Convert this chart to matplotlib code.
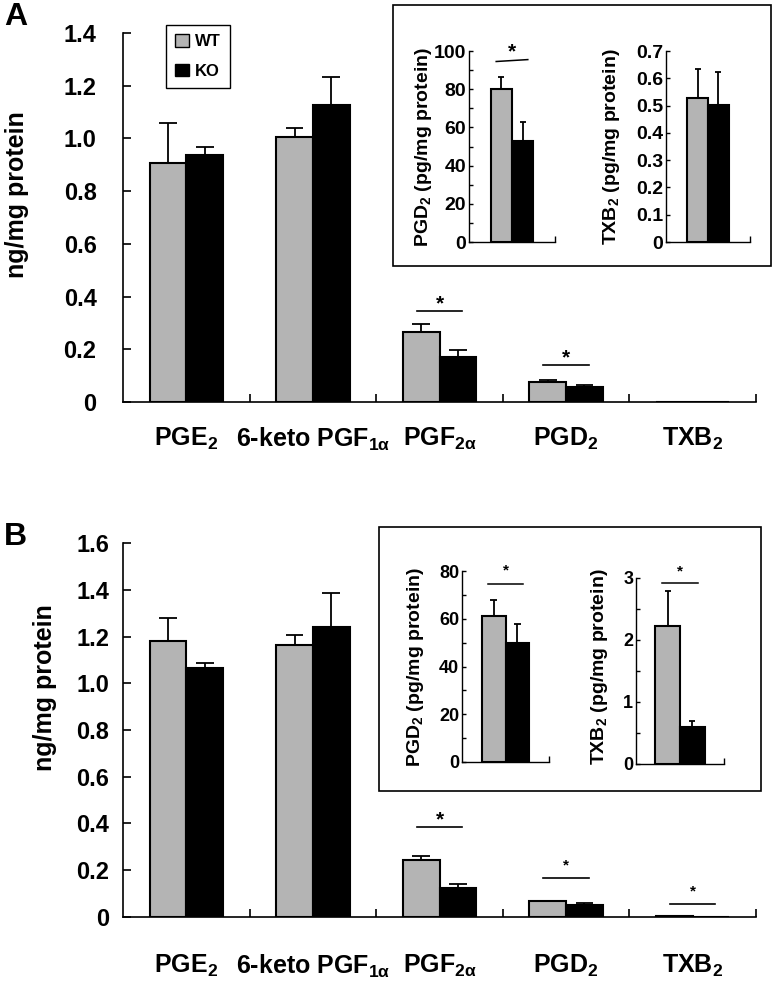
import matplotlib
matplotlib.use('Agg')
import matplotlib.pyplot as plt
from matplotlib.patches import Rectangle, Patch
import numpy as np

plt.rcParams.update({
    'font.family': ['Liberation Sans', 'DejaVu Sans'],
    'font.weight': 'bold',
    'mathtext.fontset': 'custom',
    'mathtext.rm': 'Liberation Sans:bold',
    'mathtext.it': 'Liberation Sans:bold',
    'mathtext.bf': 'Liberation Sans:bold',
    'mathtext.sf': 'Liberation Sans:bold',
})

# ---------------- data ----------------
categories = ['PGE$_2$', '6-keto PGF$_{1\\alpha}$', 'PGF$_{2\\alpha}$', 'PGD$_2$', 'TXB$_2$']
series_names = ['WT', 'KO']

# Panel A (ng/mg protein)
a_wt = [0.905, 1.005, 0.266, 0.074, 0.0]
a_wt_err = [0.155, 0.035, 0.030, 0.011, 0.0]
a_ko = [0.937, 1.128, 0.171, 0.056, 0.0]
a_ko_err = [0.030, 0.105, 0.025, 0.009, 0.0]
a_yticks = [0, 0.2, 0.4, 0.6, 0.8, 1.0, 1.2, 1.4]
a_yticklabels = ['0', '0.2', '0.4', '0.6', '0.8', '1.0', '1.2', '1.4']
a_sig_cats = [2, 3]
a_sig_y = [0.345, 0.140]

# Panel B (ng/mg protein)
b_wt = [1.181, 1.164, 0.243, 0.066, 0.0022]
b_wt_err = [0.098, 0.045, 0.018, 0.0, 0.0]
b_ko = [1.064, 1.241, 0.124, 0.050, 0.0006]
b_ko_err = [0.022, 0.145, 0.015, 0.007, 0.0]
b_yticks = [0, 0.2, 0.4, 0.6, 0.8, 1.0, 1.2, 1.4, 1.6]
b_yticklabels = ['0', '0.2', '0.4', '0.6', '0.8', '1.0', '1.2', '1.4', '1.6']
b_sig_cats = [2, 3, 4]
b_sig_y = [0.384, 0.164, 0.054]

# Insets (pg/mg protein)
ia_pgd2_wt, ia_pgd2_wt_err, ia_pgd2_ko, ia_pgd2_ko_err = 80.0, 6.2, 53.0, 9.7
ia_pgd2_sig = (94.5, 95.5)
ia_pgd2_ticks = [0, 10, 20, 30, 40, 50, 60, 70, 80, 90, 100]
ia_pgd2_labels = ['0', '', '20', '', '40', '', '60', '', '80', '', '100']

ia_txb2_wt, ia_txb2_wt_err, ia_txb2_ko, ia_txb2_ko_err = 0.527, 0.107, 0.502, 0.122
ia_txb2_sig = None
ia_txb2_ticks = [0, 0.1, 0.2, 0.3, 0.4, 0.5, 0.6, 0.7]
ia_txb2_labels = ['0', '0.1', '0.2', '0.3', '0.4', '0.5', '0.6', '0.7']

ib_pgd2_wt, ib_pgd2_wt_err, ib_pgd2_ko, ib_pgd2_ko_err = 61.2, 6.8, 49.7, 8.2
ib_pgd2_sig = (74.7, 74.7)
ib_pgd2_ticks = [0, 10, 20, 30, 40, 50, 60, 70, 80]
ib_pgd2_labels = ['0', '', '20', '', '40', '', '60', '', '80']

ib_txb2_wt, ib_txb2_wt_err, ib_txb2_ko, ib_txb2_ko_err = 2.23, 0.56, 0.60, 0.09
ib_txb2_sig = (2.92, 2.92)
ib_txb2_ticks = [0, 0.5, 1, 1.5, 2, 2.5, 3]
ib_txb2_labels = ['0', '', '1', '', '2', '', '3']

# ---------------- style ----------------
GRAY = '#b4b4b4'
W, H = 777, 983
fig = plt.figure(figsize=(W / 100, H / 100), dpi=100)


def rect_px(x0, y0, x1, y1):
    return [x0 / W, 1 - y1 / H, (x1 - x0) / W, (y1 - y0) / H]


def errs(ax, xs, vals, es, cap):
    for x, v, e in zip(xs, vals, es):
        if e > 0:
            ax.vlines(x, v, v + e, color='black', lw=1.3, zorder=1)
            ax.hlines(v + e, x - cap, x + cap, color='black', lw=1.3, zorder=1)


def main_panel(rect, wt, wterr, ko, koerr, ymax, yticks, ylabels, tick_pad, xpad,
               sig_cats, sig_y, star_sizes, star_offs):
    ax = fig.add_axes(rect)
    n = len(categories)
    x = np.arange(n)
    bw = 0.29
    ax.bar(x - bw / 2, wt, bw, color=GRAY, edgecolor='black', linewidth=1.5, zorder=2)
    ax.bar(x + bw / 2, ko, bw, color='black', edgecolor='black', linewidth=1.5, zorder=2)
    errs(ax, x - bw / 2, wt, wterr, 0.07)
    errs(ax, x + bw / 2, ko, koerr, 0.07)
    for s in ['top', 'right']:
        ax.spines[s].set_visible(False)
    for s in ['left', 'bottom']:
        ax.spines[s].set_linewidth(1.2)
    ax.set_yticks(yticks)
    ax.set_yticklabels(ylabels)
    ax.tick_params(axis='y', direction='in', length=6, width=1.2, pad=tick_pad, labelsize=17)
    ax.set_xticks(np.arange(1, n + 1) - 0.5)
    ax.set_xticklabels([])
    ax.tick_params(axis='x', which='major', direction='in', length=6, width=1.2)
    ax.set_xticks(x, categories, minor=True)
    ax.tick_params(axis='x', which='minor', length=0, pad=xpad, labelsize=18)
    ax.set_xlim(-0.5, n - 0.5)
    ax.set_ylim(0, ymax)
    for c, yv, ss, so in zip(sig_cats, sig_y, star_sizes, star_offs):
        ax.plot([c - 0.18, c + 0.18], [yv, yv], color='black', lw=1.2, clip_on=False)
        ax.annotate('*', (c, yv), xytext=(0, so), textcoords='offset points',
                    ha='center', va='baseline', fontsize=ss, fontweight='bold',
                    annotation_clip=False)
    return ax


def inset(rect, wt, wterr, ko, koerr, ymax, ticks, labels, bw, lsize, sig, star_size, star_off):
    ax = fig.add_axes(rect)
    ax.bar([-bw / 2], [wt], bw, color=GRAY, edgecolor='black', linewidth=1.5, zorder=2)
    ax.bar([bw / 2], [ko], bw, color='black', edgecolor='black', linewidth=1.5, zorder=2)
    errs(ax, [-bw / 2], [wt], [wterr], 0.07)
    errs(ax, [bw / 2], [ko], [koerr], 0.07)
    for s in ['top', 'right']:
        ax.spines[s].set_visible(False)
    for s in ['left', 'bottom']:
        ax.spines[s].set_linewidth(1.0)
    ax.set_yticks(ticks)
    ax.set_yticklabels(labels)
    ax.tick_params(axis='y', direction='in', length=3, width=1.0, pad=2, labelsize=lsize)
    ax.set_xticks([1])
    ax.set_xticklabels([])
    ax.tick_params(axis='x', direction='in', length=4, width=1.0)
    ax.set_xlim(-1, 1)
    ax.set_ylim(0, ymax)
    if sig is not None:
        ax.plot([-bw * 0.75, bw * 0.75], list(sig), color='black', lw=1.1, clip_on=False)
        ax.annotate('*', (0, max(sig)), xytext=(0, star_off), textcoords='offset points',
                    ha='center', va='baseline', fontsize=star_size, fontweight='bold',
                    annotation_clip=False)
    return ax


# ---------------- panel A ----------------
axA = main_panel(rect_px(123, 33, 756, 402), a_wt, a_wt_err, a_ko, a_ko_err, 1.4,
                 a_yticks, a_yticklabels, 19, 17, a_sig_cats, a_sig_y, [15, 15], [1.5, 1.5])
fig.text(17 / W, 1 - 195 / H, 'ng/mg protein', rotation=90, ha='center', va='center',
         fontsize=18, fontweight='bold')
fig.text(4 / W, 1 - 17 / H, 'A', ha='left', va='center', fontsize=23, fontweight='bold')

leg = axA.legend(handles=[Patch(facecolor=GRAY, edgecolor='black', label=series_names[0]),
                          Patch(facecolor='black', edgecolor='black', label=series_names[1])],
                 loc='upper left', bbox_to_anchor=(166 / W, 1 - 25 / H),
                 bbox_transform=fig.transFigure, borderaxespad=0, fancybox=False,
                 edgecolor='black', framealpha=1, fontsize=12, handlelength=0.8,
                 handleheight=0.8, handletextpad=0.4, labelspacing=0.85, borderpad=0.55)
leg.get_frame().set_linewidth(1.0)

fig.add_artist(Rectangle((393 / W, 1 - 266 / H), (771 - 393) / W, (266 - 5) / H,
                         transform=fig.transFigure, fill=False, ec='black', lw=1.2))
inset(rect_px(469, 51, 555, 242), ia_pgd2_wt, ia_pgd2_wt_err, ia_pgd2_ko, ia_pgd2_ko_err,
      100, ia_pgd2_ticks, ia_pgd2_labels, 0.49, 14, ia_pgd2_sig, 15, 1.5)
inset(rect_px(666, 51, 750, 242), ia_txb2_wt, ia_txb2_wt_err, ia_txb2_ko, ia_txb2_ko_err,
      0.7, ia_txb2_ticks, ia_txb2_labels, 0.49, 14, ia_txb2_sig, 15, 1.5)
fig.text(423 / W, 1 - 147 / H, 'PGD$_2$ (pg/mg protein)', rotation=90, ha='center',
         va='center', fontsize=14, fontweight='bold')
fig.text(612 / W, 1 - 147 / H, 'TXB$_2$ (pg/mg protein)', rotation=90, ha='center',
         va='center', fontsize=14, fontweight='bold')

# ---------------- panel B ----------------
axB = main_panel(rect_px(123, 543.3, 756, 916.7), b_wt, b_wt_err, b_ko, b_ko_err, 1.6,
                 b_yticks, b_yticklabels, 10, 26, b_sig_cats, b_sig_y, [15, 11, 11],
                 [1.5, 6.5, 6.5])
fig.text(45 / W, 1 - 688 / H, 'ng/mg protein', rotation=90, ha='center', va='center',
         fontsize=18, fontweight='bold')
fig.text(4 / W, 1 - 537 / H, 'B', ha='left', va='center', fontsize=23, fontweight='bold')

fig.add_artist(Rectangle((379 / W, 1 - 791 / H), (761 - 379) / W, (791 - 527) / H,
                         transform=fig.transFigure, fill=False, ec='black', lw=1.2))
inset(rect_px(462, 571, 549, 762), ib_pgd2_wt, ib_pgd2_wt_err, ib_pgd2_ko, ib_pgd2_ko_err,
      80, ib_pgd2_ticks, ib_pgd2_labels, 0.55, 13, ib_pgd2_sig, 11, 6.5)
inset(rect_px(636, 578, 724, 764), ib_txb2_wt, ib_txb2_wt_err, ib_txb2_ko, ib_txb2_ko_err,
      3, ib_txb2_ticks, ib_txb2_labels, 0.557, 13, ib_txb2_sig, 11, 5.5)
fig.text(416 / W, 1 - 667 / H, 'PGD$_2$ (pg/mg protein)', rotation=90, ha='center',
         va='center', fontsize=14, fontweight='bold')
fig.text(599 / W, 1 - 667 / H, 'TXB$_2$ (pg/mg protein)', rotation=90, ha='center',
         va='center', fontsize=14, fontweight='bold')

fig.savefig('out.png', dpi=100)
